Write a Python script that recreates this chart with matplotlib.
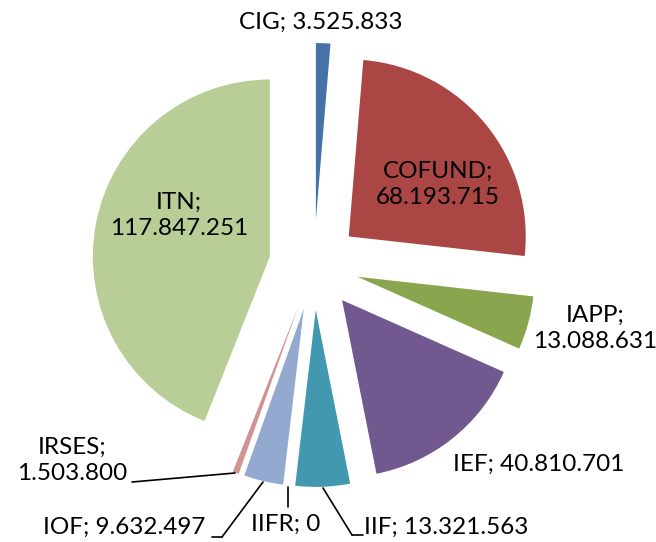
import matplotlib
matplotlib.use('Agg')
import matplotlib.pyplot as plt

# --- Data --- #
programmes = ['CIG', 'COFUND', 'IAPP', 'IEF', 'IIF', 'IIFR', 'IOF', 'IRSES', 'ITN']
funding    = [3525833, 68193715, 13088631, 40810701, 13321563, 0, 9632497, 1503800, 117847251]
labels     = ['CIG; 3.525.833', 'COFUND;\n68.193.715', 'IAPP;\n13.088.631', 'IEF; 40.810.701',
              'IIF; 13.321.563', 'IIFR; 0', 'IOF; 9.632.497', 'IRSES;\n1.503.800', 'ITN;\n117.847.251']
colors     = ['#4572A7', '#AA4643', '#89A54E', '#71588F', '#4198AF', '#DB843D',
              '#93A9CF', '#D19392', '#B9CD96']

# --- Plot Stuff --- #
plt.rcParams['font.family'] = ['Lato', 'DejaVu Sans']
fig = plt.figure(figsize=(6.56, 5.42), dpi=100)
ax = fig.add_axes([0, 0, 1, 1])

explode = [0.254] * len(funding)
wedges, _ = ax.pie(funding, colors=colors, startangle=90, counterclock=False,
                   explode=explode, radius=1.0, wedgeprops=dict(linewidth=0))

ax.set_xlim(-1.774, 1.932)
ax.set_ylim(-1.565, 1.497)
ax.set_aspect('equal')
ax.axis('off')

# label positions in axes fraction, leader lines where Excel drew them
fs = 17.5
tk = dict(fontsize=fs, ha='center', va='center', linespacing=1.3,
          xycoords='axes fraction', textcoords='axes fraction')
W, H = 656.0, 542.0

def px(x, y):
    return (x / W, 1 - y / H)

line = dict(arrowstyle='-', color='black', lw=1.2, shrinkA=0, shrinkB=0)

ax.annotate(labels[0], xy=px(321, 22), xytext=px(321, 22), **tk)
ax.annotate(labels[1], xy=px(438, 184), xytext=px(438, 184), **tk)
ax.annotate(labels[2], xy=px(595, 328), xytext=px(595, 328), **tk)
ax.annotate(labels[3], xy=px(539, 464), xytext=px(539, 464), **tk)
ax.annotate(labels[8], xy=px(179, 215), xytext=px(179, 215), **tk)

# IIF
ax.annotate('', xy=px(323, 488), xytext=px(352, 535), xycoords='axes fraction',
            textcoords='axes fraction', arrowprops=line)
ax.annotate('', xy=px(352, 535), xytext=px(363, 535), xycoords='axes fraction',
            textcoords='axes fraction', arrowprops=line)
ax.text(364 / W, 1 - 527 / H, labels[4], fontsize=fs, ha='left', va='center',
        transform=ax.transAxes)

# IIFR
ax.annotate('', xy=px(288, 487), xytext=px(288, 507), xycoords='axes fraction',
            textcoords='axes fraction', arrowprops=line)
ax.text(286 / W, 1 - 524 / H, labels[5], fontsize=fs, ha='center', va='center',
        transform=ax.transAxes)

# IOF
ax.annotate('', xy=px(263, 482), xytext=px(222, 537), xycoords='axes fraction',
            textcoords='axes fraction', arrowprops=line)
ax.annotate('', xy=px(222, 537), xytext=px(212, 537), xycoords='axes fraction',
            textcoords='axes fraction', arrowprops=line)
ax.text(205 / W, 1 - 527 / H, labels[6], fontsize=fs, ha='right', va='center',
        transform=ax.transAxes)

# IRSES
ax.annotate('', xy=px(235, 473), xytext=px(132, 482), xycoords='axes fraction',
            textcoords='axes fraction', arrowprops=line)
ax.text(72 / W, 1 - 460 / H, labels[7], fontsize=fs, ha='center', va='center',
        linespacing=1.3, transform=ax.transAxes)

fig.savefig('out.png', dpi=100)
